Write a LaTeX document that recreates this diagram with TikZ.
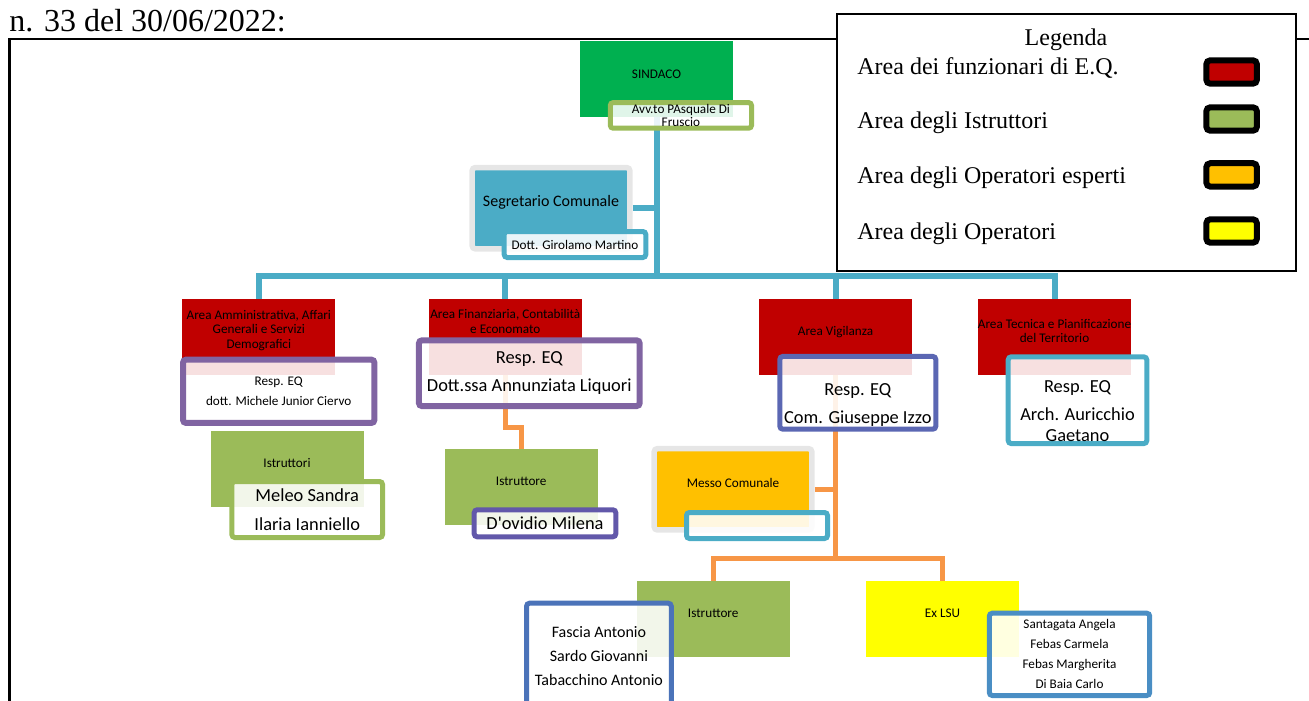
\documentclass[tikz,border=0pt]{standalone}
\usepackage{fontspec}
\setmainfont{Liberation Serif}
\newfontfamily\chartfont{Carlito}
\usetikzlibrary{positioning}
\usetikzlibrary{backgrounds}

\definecolor{sindgreen}{HTML}{00B050}
\definecolor{eqred}{HTML}{C00000}
\definecolor{istrgreen}{HTML}{9BBB59}
\definecolor{opgold}{HTML}{FFC000}
\definecolor{opyellow}{HTML}{FFFF00}
\definecolor{linkblue}{HTML}{4BACC6}
\definecolor{linkorange}{HTML}{F79646}
\definecolor{eqpurple}{HTML}{8064A2}
\definecolor{vigblue}{HTML}{5B67B3}
\definecolor{milpurple}{HTML}{6258AA}
\definecolor{istrblue}{HTML}{4B73B9}
\definecolor{lsublue}{HTML}{4A8EC4}
\definecolor{framegrey}{HTML}{E6E6E6}

\begin{document}
\begin{tikzpicture}[x=0.5pt, y=-0.5pt,
		cbox/.style={minimum width=76.5pt, minimum height=38pt, inner sep=0pt},
		framed/.style={cbox, draw=framegrey, line width=2.75pt, rounded corners=1.5pt,
			minimum width=78.8pt, minimum height=40.6pt},
		namebox/.style={draw=#1, line width=2.5pt, rounded corners=1.5pt, fill=white,
			fill opacity=0.88, text opacity=1, inner sep=0pt},
		smalltxt/.style={font=\chartfont\fontsize{6.6}{7.25}\selectfont, align=center, inner sep=0pt},
		midtxt/.style={font=\chartfont\fontsize{9.2}{14.3}\selectfont, align=center, inner sep=0pt},
		bluelink/.style={draw=linkblue, line width=3pt},
		orangelink/.style={draw=linkorange, line width=2.5pt},
		legendkey/.style={draw=black, line width=3pt, rounded corners=2pt,
			minimum width=25.3pt, minimum height=11.7pt, inner sep=0pt},
		legendtxt/.style={anchor=base west, inner sep=0pt, font=\fontsize{12}{14}\selectfont}
	]
	\useasboundingbox (0,0) rectangle (1309,700);
	
	%page frame
	\draw[line width=1.1pt] (1320,39) -- (9.5,39) -- (9.5,720);
	\node[anchor=base west, inner sep=0pt, font=\fontsize{16}{19}\selectfont] (header) at (9,31.7) {n. 33 del 30/06/2022:};
	
	%sindaco
	\node[cbox, fill=sindgreen, label={[smalltxt, yshift=2.5pt]center:SINDACO}] (sindaco) at (656.5,79) {};
	\node[namebox=istrgreen, minimum width=70.65pt, minimum height=12.85pt,
		label={[smalltxt, font=\chartfont\fontsize{6.6}{6.6}\selectfont]center:{Avv.to PAsquale Di\\Fruscio}}] (sindname) at (680.9,115.4) {};
	
	%segretario
	\node[framed, fill=linkblue, label={[smalltxt, font=\chartfont\fontsize{8}{9}\selectfont, yshift=3pt]center:Segretario Comunale}] (segretario) at (551,208.2) {};
	\node[namebox=linkblue, minimum width=70.8pt, minimum height=13pt,
		label={[smalltxt]center:Dott. Girolamo Martino}] (segname) at (575,244.5) {};
	
	%aree
	\node[cbox, fill=eqred, label={[smalltxt, yshift=3.25pt]center:{Area Amministrativa, Affari\\Generali e Servizi\\Demografici}}] (amm) at (258.8,337) {};
	\node[cbox, fill=eqred, label={[smalltxt, font=\chartfont\fontsize{6.6}{7.5}\selectfont, yshift=7.75pt]center:{Area Finanziaria, Contabilità\\e Economato}}] (fin) at (505.3,337) {};
	\node[cbox, fill=eqred, label={[smalltxt, yshift=2.4pt]center:Area Vigilanza}] (vig) at (835.5,337) {};
	\node[cbox, fill=eqred, label={[smalltxt, font=\chartfont\fontsize{6.6}{7}\selectfont, yshift=2.9pt]center:{Area Tecnica e Pianificazione\\del Territorio}}] (tec) at (1054.5,337) {};
	
	%responsabili
	\node[namebox=eqpurple, line width=3pt, minimum width=95.65pt, minimum height=31.65pt,
		label={[smalltxt, font=\chartfont\fontsize{6.6}{10}\selectfont]center:{Resp. EQ\\dott. Michele Junior Ciervo}}] (ammname) at (278.7,391.3) {};
	\node[namebox=eqpurple, line width=3pt, minimum width=110.35pt, minimum height=32.85pt,
		label={[midtxt]center:{Resp. EQ\\Dott.ssa Annunziata Liquori}}] (finname) at (529.3,373.2) {};
	\node[namebox=vigblue, minimum width=78pt, minimum height=36.35pt,
		label={[midtxt, yshift=-6.1pt]center:{Resp. EQ\\Com. Giuseppe Izzo}}] (vigname) at (857.8,392.8) {};
	\node[namebox=linkblue, minimum width=69.3pt, minimum height=43.35pt,
		label={[midtxt, font=\chartfont\fontsize{9.2}{10.7}\selectfont, yshift=-5.5pt]center:{Resp. EQ\\[3.1pt]Arch. Auricchio\\Gaetano}}] (tecname) at (1077.5,400.2) {};
	
	%istruttori
	\node[cbox, fill=istrgreen, label={[smalltxt, yshift=2.9pt]center:Istruttori}] (ammistr) at (287,469) {};
	\node[namebox=istrgreen, minimum width=75.35pt, minimum height=28pt,
		label={[midtxt]center:{Meleo Sandra\\Ilaria Ianniello}}] (ammistrname) at (307.2,509.5) {};
	\node[cbox, fill=istrgreen, label={[smalltxt, yshift=2.7pt]center:Istruttore}] (finistr) at (521.2,487) {};
	\node[namebox=milpurple, minimum width=70.8pt, minimum height=13.5pt,
		label={[midtxt]center:D'ovidio Milena}] (finistrname) at (545,523.3) {};
	
	%vigilanza
	\node[framed, fill=opgold, label={[smalltxt, yshift=3.1pt]center:Messo Comunale}] (messo) at (733,489.3) {};
	\node[namebox=linkblue, minimum width=70.5pt, minimum height=13pt] (messoname) at (757,525.5) {};
	\node[cbox, fill=istrgreen, label={[smalltxt, yshift=3pt]center:Istruttore}] (vigistr) at (713.2,619) {};
	\node[namebox=istrblue, minimum width=72.35pt, minimum height=52.65pt,
		label={[midtxt, font=\chartfont\fontsize{8}{12}\selectfont]center:{Fascia Antonio\\Sardo Giovanni\\Tabacchino Antonio}}] (vigistrname) at (598.9,655.85) {};
	\node[cbox, fill=opyellow, label={[smalltxt, yshift=2.9pt]center:Ex LSU}] (exlsu) at (942.5,619) {};
	\node[namebox=lsublue, minimum width=80.2pt, minimum height=41.15pt,
		label={[smalltxt, font=\chartfont\fontsize{6.6}{10}\selectfont]center:{Santagata Angela\\Febas Carmela\\Febas Margherita\\Di Baia Carlo}}] (exlsuname) at (1069.5,654.35) {};
	
	%connectors
	\begin{pgfonlayer}{background}
		\coordinate (bus) at (656.5,276.3);
		\coordinate (obus) at (835.5,558.3);
		\draw[bluelink] (sindaco.south) -- (bus);
		\draw[bluelink] (segretario.east) -- (segretario.east -| bus);
		\draw[bluelink] (amm.north) |- (bus) -| (tec.north);
		\draw[bluelink] (fin.north) -- (fin.north |- bus);
		\draw[bluelink] (vig.north) -- (vig.north |- bus);
		\draw[orangelink] (fin.south) -- ++(0,51.7) -| (finistr.north);
		\draw[orangelink] (vig.south) -- (obus);
		\draw[orangelink] (messo.east) -- (messo.east -| obus);
		\draw[orangelink] (vigistr.north) |- (obus) -| (exlsu.north);
	\end{pgfonlayer}
	
	%legenda
	\node[draw, line width=0.8pt, fill=white, minimum width=229.5pt, minimum height=128.5pt, inner sep=0pt] (legend) at (1066.5,142.5) {};
	\node[inner sep=0pt, font=\fontsize{12}{14}\selectfont] (legtitle) at (1066,40) {Legenda};
	\node[legendtxt] (legeq) at (857,74.3) {Area dei funzionari di E.Q.};
	\node[legendtxt] (legistr) at (857,128.3) {Area degli Istruttori};
	\node[legendtxt] (legopesp) at (857,183.3) {Area degli Operatori esperti};
	\node[legendtxt] (legop) at (857,239.3) {Area degli Operatori};
	\node[legendkey, fill=eqred] (keyeq) at (1231.6,72) {};
	\node[legendkey, fill=istrgreen] (keyistr) at (1231.6,119) {};
	\node[legendkey, fill=opgold] (keyopesp) at (1231.6,174.9) {};
	\node[legendkey, fill=opyellow] (keyop) at (1231.6,231) {};
\end{tikzpicture}
\end{document}
